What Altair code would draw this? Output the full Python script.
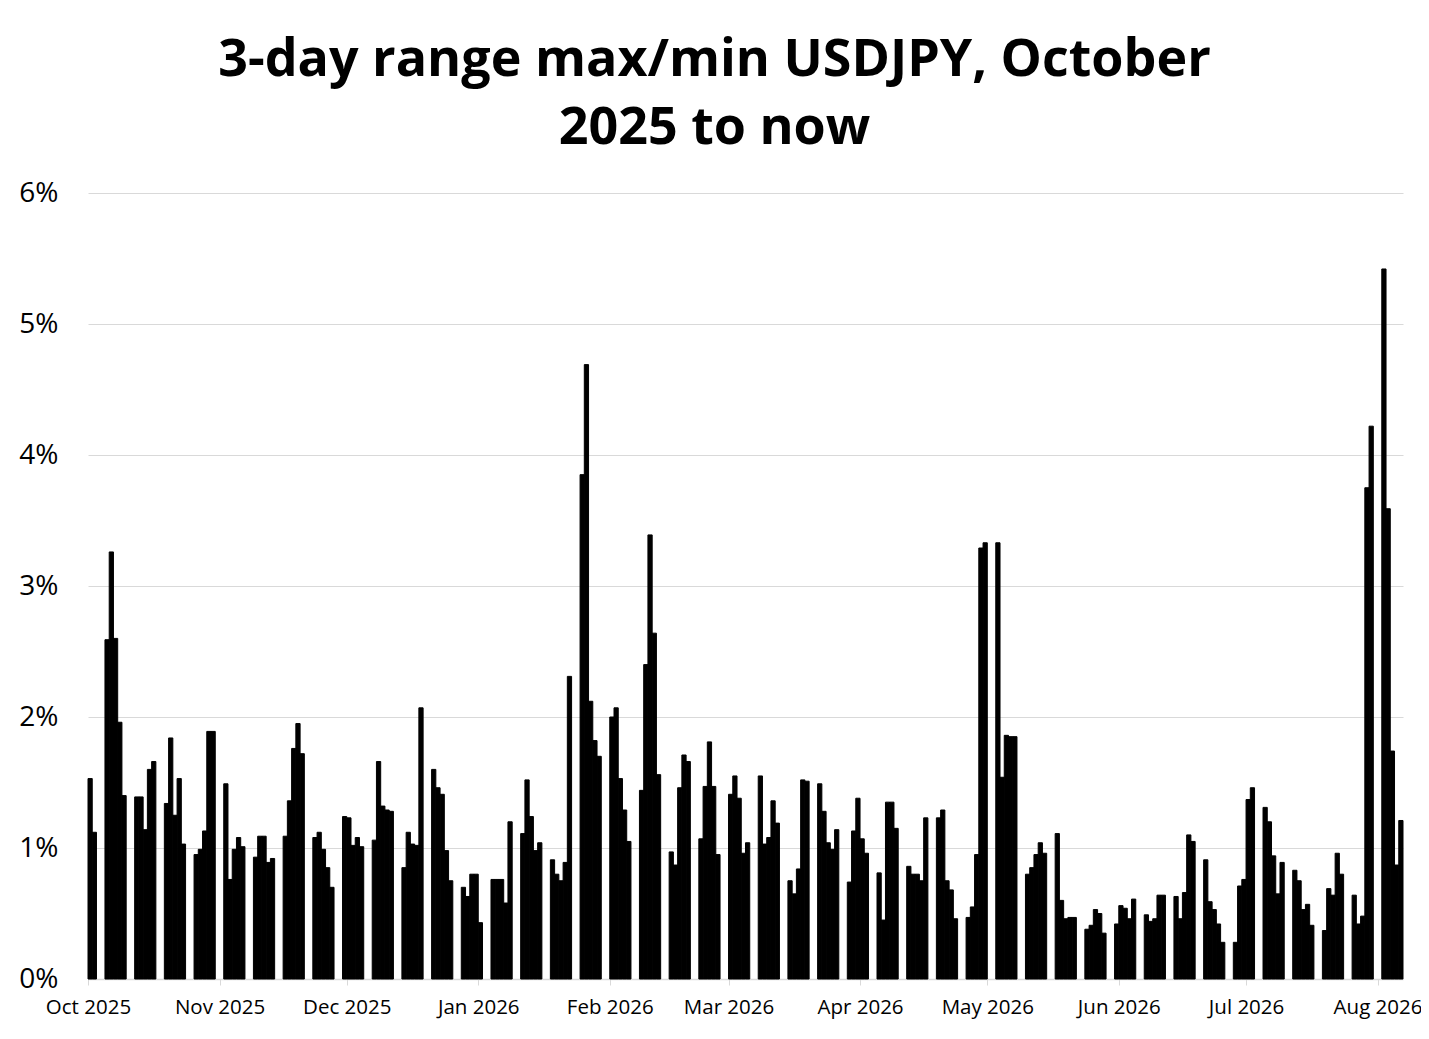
import altair as alt
import pandas as pd

# First trading day of each week (weeks are Mon-Fri; the first week starts on Thu 2 Oct 2025)
week_start = [
    "2025-10-02", "2025-10-06", "2025-10-13", "2025-10-20", "2025-10-27",
    "2025-11-03", "2025-11-10", "2025-11-17", "2025-11-24",
    "2025-12-01", "2025-12-08", "2025-12-15", "2025-12-22", "2025-12-29",
    "2026-01-05", "2026-01-12", "2026-01-19", "2026-01-26",
    "2026-02-02", "2026-02-09", "2026-02-16", "2026-02-23",
    "2026-03-02", "2026-03-09", "2026-03-16", "2026-03-23", "2026-03-30",
    "2026-04-06", "2026-04-13", "2026-04-20", "2026-04-27",
    "2026-05-04", "2026-05-11", "2026-05-18", "2026-05-25",
    "2026-06-01", "2026-06-08", "2026-06-15", "2026-06-22", "2026-06-29",
    "2026-07-06", "2026-07-13", "2026-07-20", "2026-07-27",
    "2026-08-03",
]

# 3-day range max/min of USDJPY, in percent, one value per trading day
oct_2025 = [
    [1.53, 1.12],
    [2.59, 3.26, 2.60, 1.96, 1.40],
    [1.39, 1.39, 1.14, 1.60, 1.66],
    [1.34, 1.84, 1.25, 1.53, 1.03],
    [0.95, 0.99, 1.13, 1.89, 1.89],
]
nov_2025 = [
    [1.49, 0.76, 0.99, 1.08, 1.01],
    [0.93, 1.09, 1.09, 0.89, 0.92],
    [1.09, 1.36, 1.76, 1.95, 1.72],
    [1.08, 1.12, 0.99, 0.85, 0.70],
]
dec_2025 = [
    [1.24, 1.23, 1.02, 1.08, 1.01],
    [1.06, 1.66, 1.32, 1.29, 1.28],
    [0.85, 1.12, 1.03, 1.02, 2.07],
    [1.60, 1.46, 1.41, 0.98, 0.75],
    [0.70, 0.63, 0.80, 0.80, 0.43],
]
jan_2026 = [
    [0.76, 0.76, 0.76, 0.58, 1.20],
    [1.11, 1.52, 1.24, 0.98, 1.04],
    [0.91, 0.80, 0.75, 0.89, 2.31],
    [3.85, 4.69, 2.12, 1.82, 1.70],
]
feb_2026 = [
    [2.00, 2.07, 1.53, 1.29, 1.05],
    [1.44, 2.40, 3.39, 2.64, 1.56],
    [0.97, 0.87, 1.46, 1.71, 1.66],
    [1.07, 1.47, 1.81, 1.47, 0.95],
]
mar_2026 = [
    [1.41, 1.55, 1.38, 0.96, 1.04],
    [1.55, 1.03, 1.08, 1.36, 1.19],
    [0.75, 0.65, 0.84, 1.52, 1.51],
    [1.49, 1.28, 1.04, 0.99, 1.14],
    [0.74, 1.13, 1.38, 1.07, 0.96],
]
apr_2026 = [
    [0.81, 0.45, 1.35, 1.35, 1.15],
    [0.86, 0.80, 0.80, 0.75, 1.23],
    [1.23, 1.29, 0.75, 0.68, 0.46],
    [0.47, 0.55, 0.95, 3.29, 3.33],
]
may_2026 = [
    [3.33, 1.54, 1.86, 1.85, 1.85],
    [0.80, 0.85, 0.95, 1.04, 0.96],
    [1.11, 0.60, 0.46, 0.47, 0.47],
    [0.38, 0.41, 0.53, 0.50, 0.35],
]
jun_2026 = [
    [0.42, 0.56, 0.54, 0.46, 0.61],
    [0.49, 0.44, 0.46, 0.64, 0.64],
    [0.63, 0.46, 0.66, 1.10, 1.05],
    [0.91, 0.59, 0.53, 0.42, 0.28],
    [0.28, 0.71, 0.76, 1.37, 1.46],
]
jul_2026 = [
    [1.31, 1.20, 0.94, 0.65, 0.89],
    [0.83, 0.75, 0.53, 0.57, 0.41],
    [0.37, 0.69, 0.64, 0.96, 0.80],
    [0.64, 0.42, 0.48, 3.75, 4.22],
]
aug_2026 = [
    [5.42, 3.59, 1.74, 0.87, 1.21],
]

y_ticks = [0, 1, 2, 3, 4, 5, 6]
title_lines = ["3-day range max/min USDJPY, October", "2025 to now"]

week_values = (oct_2025 + nov_2025 + dec_2025 + jan_2026 + feb_2026 + mar_2026
               + apr_2026 + may_2026 + jun_2026 + jul_2026 + aug_2026)

rows = []
for start, vals in zip(week_start, week_values):
    d0 = pd.Timestamp(start)
    for i, v in enumerate(vals):
        rows.append({"date": (d0 + pd.Timedelta(days=i)).strftime("%Y-%m-%d"), "range": v})
df = pd.DataFrame(rows)

FONT = "Open Sans"
GRID = "#d9d9d9"

chart = (
    alt.Chart(df)
    # the reference draws each day one calendar day earlier (UTC -> US local time);
    # each bar covers one full calendar day
    .transform_calculate(
        shown="utcOffset('date', toDate(datum.date), -1)",
        shown_end="utcOffset('date', toDate(datum.date), 0)",
    )
    .mark_bar(color="black", stroke="black", strokeWidth=1, strokeJoin="round")
    .encode(
        x=alt.X(
            "shown:T",
            scale=alt.Scale(
                type="utc",
                domain=[
                    alt.DateTime(year=2025, month=10, date=1, utc=True),
                    alt.DateTime(year=2026, month=8, date=7, utc=True),
                ],
            ),
            axis=alt.Axis(
                title=None,
                format="%b %Y",
                formatType="time",
                tickCount={"interval": "month", "step": 1},
                grid=False,
                domainColor=GRID,
                domainWidth=1.5,
                tickColor=GRID,
                tickSize=6,
                labelFont=FONT,
                labelFontSize=20.5,
                labelColor="black",
                labelPadding=12,
                labelFlush=False,
                labelOverlap=False,
            ),
        ),
        x2="shown_end:T",
        y=alt.Y(
            "range:Q",
            scale=alt.Scale(domain=[0, 6], nice=False),
            axis=alt.Axis(
                title=None,
                values=y_ticks,
                labelExpr="datum.value + '%'",
                grid=True,
                gridColor=GRID,
                gridWidth=1.2,
                domain=False,
                ticks=False,
                labelFont=FONT,
                labelFontSize=28,
                labelColor="black",
                labelPadding=30,
            ),
        ),
        y2=alt.datum(0),
    )
    .properties(
        width=1315,
        height=786,
        autosize=alt.AutoSizeParams(type="none"),
        padding={"left": 80, "top": 185, "right": 18, "bottom": 40},
        title=alt.TitleParams(
            title_lines,
            font=FONT,
            fontSize=52,
            fontWeight="bold",
            lineHeight=68,
            color="black",
            anchor="middle",
            frame="group",
            dx=-31,
            offset=24,
        ),
    )
    .configure(background="white")
    .configure_view(stroke=None)
)

chart.save("out.html", embed_options={"renderer": "svg", "actions": False})
